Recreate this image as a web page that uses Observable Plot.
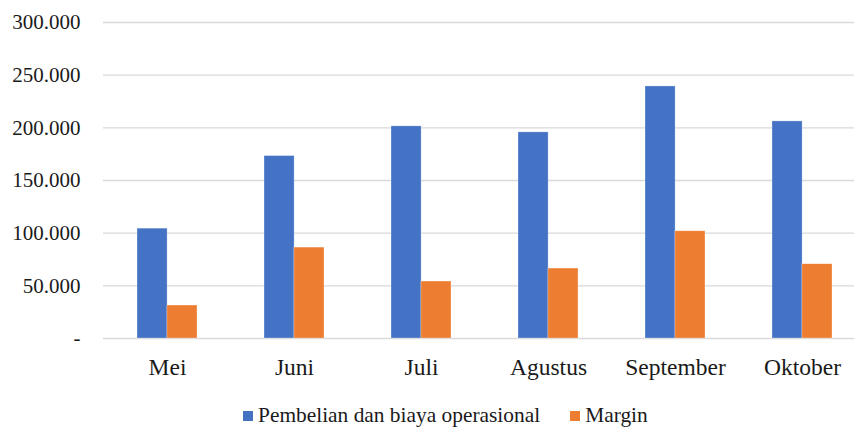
<!DOCTYPE html>
<html>
<head>
<meta charset="utf-8">
<script src="https://cdn.jsdelivr.net/npm/d3@7"></script>
<script src="https://cdn.jsdelivr.net/npm/@observablehq/plot@0.6"></script>
<style>
  html, body { margin: 0; padding: 0; background: #fff; overflow: hidden; }
  body { width: 854px; height: 428px; position: relative; font-family: "Times New Roman", "Liberation Serif", Times, "DejaVu Serif", serif; color: #1a1a1a; }
  #chart svg, #chart svg text { font-family: "Times New Roman", "Liberation Serif", Times, "DejaVu Serif", serif !important; }
  #chart svg [aria-label^="x-axis"] text { font-size: 23.5px; }
  #legend { position: absolute; left: 243px; top: 405px; display: flex; align-items: center; font-size: 21.4px; line-height: 21px; color: #1a1a1a; white-space: nowrap; }
  #legend .item { display: flex; align-items: center; }
  #legend .sw { width: 10px; height: 10px; margin-right: 5px; }
</style>
</head>
<body>
<div id="chart"></div>
<div id="legend"></div>
<script>
const months = ["Mei", "Juni", "Juli", "Agustus", "September", "Oktober"];
const pembelian = [104300, 173200, 201400, 195700, 239300, 206100];
const margin = [31300, 86300, 54100, 66400, 101800, 70500];
const seriesNames = ["Pembelian dan biaya operasional", "Margin"];
const seriesColors = ["#4472C4", "#ED7D31"];
const yTicks = [0, 50000, 100000, 150000, 200000, 250000, 300000];
const yTickLabels = ["-", "50.000", "100.000", "150.000", "200.000", "250.000", "300.000"];

const dataA = months.map((m, i) => ({month: m, value: pembelian[i]}));
const dataB = months.map((m, i) => ({month: m, value: margin[i]}));

const chart = Plot.plot({
  width: 854,
  height: 390,
  marginLeft: 103,
  marginRight: -12,
  marginTop: 22,
  marginBottom: 52,
  style: {fontSize: "21px", color: "#1a1a1a", background: "transparent"},
  x: {type: "band", domain: months, paddingInner: 0.53, paddingOuter: 0.265, tickSize: 0, tickPadding: 19.5, label: null},
  y: {domain: [0, 300000], ticks: yTicks, tickSize: 0, tickPadding: 23, label: null,
      tickFormat: d => yTickLabels[yTicks.indexOf(d)]},
  marks: [
    Plot.ruleY(yTicks, {stroke: "#d9d9d9", strokeWidth: 1.4}),
    Plot.barY(dataA, {x: "month", y: "value", fill: seriesColors[0], insetRight: 29.9, stroke: "#fff", strokeOpacity: 0.5, strokeWidth: 0.6}),
    Plot.barY(dataB, {x: "month", y: "value", fill: seriesColors[1], insetLeft: 29.9, stroke: "#fff", strokeOpacity: 0.5, strokeWidth: 0.6})
  ]
});
document.getElementById("chart").appendChild(chart);

const legend = document.getElementById("legend");
seriesNames.forEach((name, i) => {
  const item = document.createElement("div");
  item.className = "item";
  if (i > 0) item.style.marginLeft = "30px";
  const sw = document.createElement("div");
  sw.className = "sw";
  sw.style.background = seriesColors[i];
  const label = document.createElement("span");
  label.textContent = name;
  item.appendChild(sw);
  item.appendChild(label);
  legend.appendChild(item);
});
</script>
</body>
</html>
